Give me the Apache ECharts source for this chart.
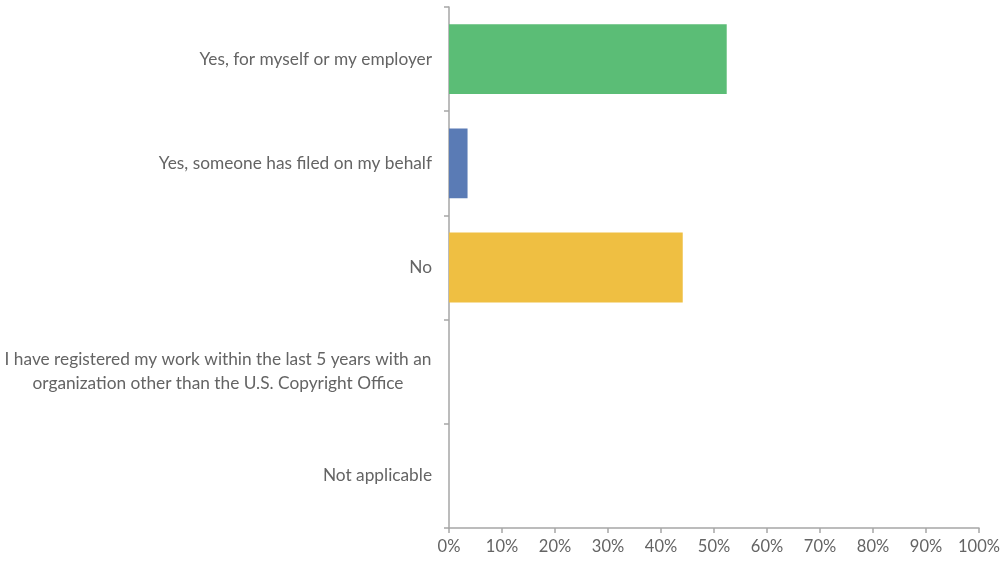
<!DOCTYPE html>
<html>
<head>
<meta charset="utf-8">
<script src="https://cdn.jsdelivr.net/npm/echarts@6/dist/echarts.min.js"></script>
<style>
  html, body { margin: 0; padding: 0; background: #ffffff; }
  #chart { width: 1001px; height: 566px; }
</style>
</head>
<body>
<div id="chart"></div>
<script>
// Survey answers, top to bottom
const categories = [
  'Yes, for myself or my employer',
  'Yes, someone has filed on my behalf',
  'No',
  'I have registered my work within the last 5 years with an\norganization other than the U.S. Copyright Office',
  'Not applicable'
];
// Share of respondents (%)
const shares = [52.4, 3.5, 44.1, 0, 0];
const barColors = ['#5BBD76', '#5A7BB5', '#EFBF42', '#9E9E9E', '#9E9E9E'];
const xTicks = [0, 10, 20, 30, 40, 50, 60, 70, 80, 90, 100];

const FONT = 'Lato';
const FONT_SIZE = 17.3;
const X_FONT_SIZE = 16.5;
const TEXT_COLOR = '#646464';
const AXIS_COLOR = '#A6A6A6';

// width of the widest line of multi-line labels, so each line can be centred in that block
const ctx = document.createElement('canvas').getContext('2d');
ctx.font = FONT_SIZE + 'px ' + FONT;
let blockWidth = 0;
categories.forEach(c => {
  const lines = c.split('\n');
  if (lines.length > 1) lines.forEach(l => { blockWidth = Math.max(blockWidth, ctx.measureText(l).width); });
});
blockWidth = Math.ceil(blockWidth) + 1;

const chart = echarts.init(document.getElementById('chart'), null, { renderer: 'canvas' });
chart.setOption({
  animation: false,
  backgroundColor: '#ffffff',
  grid: { left: 449, right: 22, top: 7, bottom: 38, containLabel: false, outerBoundsMode: 'none' },
  xAxis: {
    type: 'value',
    min: xTicks[0],
    max: xTicks[xTicks.length - 1],
    interval: xTicks[1] - xTicks[0],
    splitLine: { show: false },
    axisLine: { show: true, lineStyle: { color: AXIS_COLOR, width: 1.5 } },
    axisTick: { show: true, length: 5, lineStyle: { color: AXIS_COLOR, width: 1.5 } },
    axisLabel: {
      margin: 10,
      color: TEXT_COLOR,
      fontFamily: FONT,
      fontSize: X_FONT_SIZE,
      formatter: v => v + '%'
    }
  },
  yAxis: {
    type: 'category',
    inverse: true,
    data: categories,
    axisLine: { show: true, lineStyle: { color: AXIS_COLOR, width: 1.5 } },
    axisTick: { show: true, length: 5, alignWithLabel: false, lineStyle: { color: AXIS_COLOR, width: 1.5 } },
    axisLabel: {
      margin: 17,
      color: TEXT_COLOR,
      fontFamily: FONT,
      fontSize: FONT_SIZE,
      lineHeight: 24,
      formatter: v => {
        const lines = v.split('\n');
        if (lines.length === 1) return v;
        return lines.map(l => '{c|' + l + '}').join('\n');
      },
      rich: {
        c: {
          width: blockWidth,
          align: 'center',
          color: TEXT_COLOR,
          fontFamily: FONT,
          fontSize: FONT_SIZE,
          lineHeight: 24
        }
      }
    }
  },
  series: [{
    type: 'bar',
    data: shares.map((v, i) => ({ value: v, itemStyle: { color: barColors[i] } })),
    barCategoryGap: '33%'
  }]
});
</script>
</body>
</html>
